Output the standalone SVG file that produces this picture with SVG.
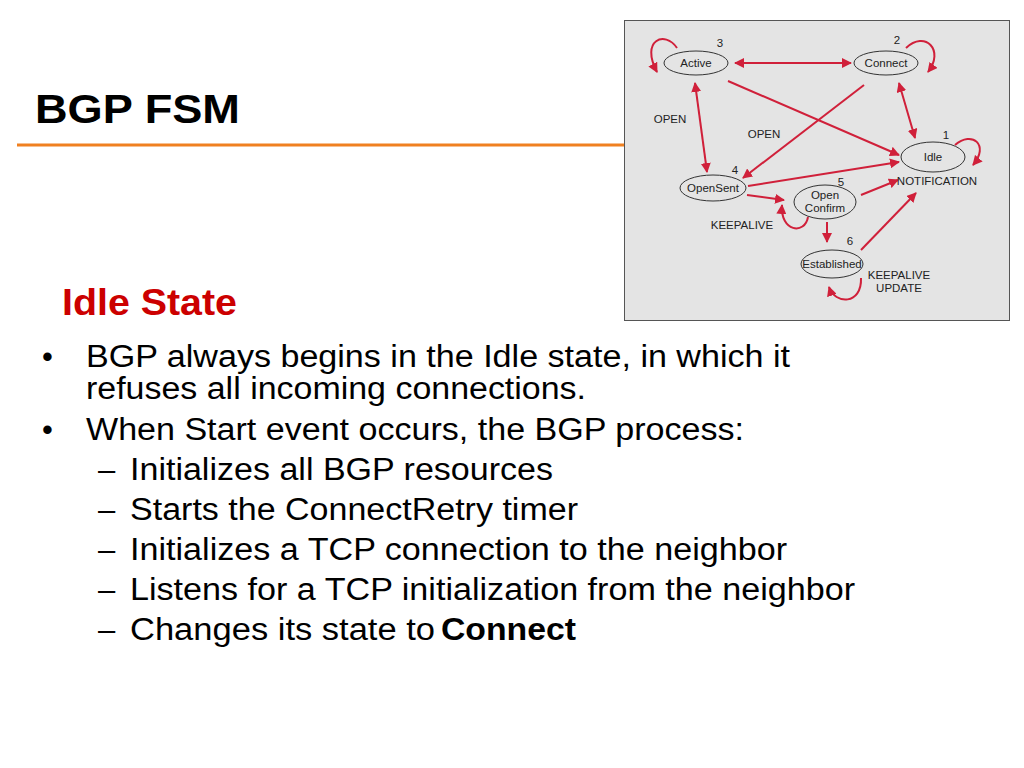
<svg xmlns="http://www.w3.org/2000/svg" width="1024" height="768" viewBox="0 0 1024 768">
<style>
.n ellipse{fill:none;stroke:#333;stroke-width:1}
.n text,.l{font-family:"Liberation Sans",Arial,sans-serif;font-size:11.5px;fill:#222;text-anchor:middle}
.c path{fill:none;stroke:#d0203a;stroke-width:2}
.lp{fill:none;stroke:#d0203a;stroke-width:1.2}
.b{font-family:"Liberation Sans",Arial,sans-serif;font-size:31px;fill:#000}
</style>
<defs>
<marker id="a" viewBox="0 0 10 10" refX="9" refY="5" markerWidth="5" markerHeight="5" orient="auto-start-reverse"><path d="M0,0L10,5L0,10z" fill="#d0203a"/></marker>
</defs>
<rect width="1024" height="768" fill="#fff"/>
<text x="35" y="123" font-family="Liberation Sans,Arial,sans-serif" font-size="40" font-weight="bold" textLength="205" lengthAdjust="spacingAndGlyphs">BGP FSM</text>
<line x1="17" y1="145" x2="624" y2="145" stroke="#f08020" stroke-width="3"/>
<rect x="624.5" y="20.5" width="385" height="300" fill="#e4e4e4" stroke="#555" stroke-width="1"/>
<g class="c">
<path d="M735,63H851" marker-start="url(#a)" marker-end="url(#a)"/>
<path d="M728,81L899,155" marker-end="url(#a)"/>
<path d="M864,85L743,178" marker-end="url(#a)"/>
<path d="M899,83L915,138" marker-start="url(#a)" marker-end="url(#a)"/>
<path d="M695,83L707,172" marker-start="url(#a)" marker-end="url(#a)"/>
<path d="M748,186L899,162" marker-end="url(#a)"/>
<path d="M747,195L784,200" marker-end="url(#a)"/>
<path d="M861,195L898,180" marker-end="url(#a)"/>
<path d="M827,222V242" marker-end="url(#a)"/>
<path d="M861,250L916,193" marker-end="url(#a)"/>
<path class="lp" d="M677,48C665,30 640,40 657,72" marker-end="url(#a)"/>
<path class="lp" d="M906,48C925,30 945,50 928,72" marker-end="url(#a)"/>
<path class="lp" d="M955,145C972,130 990,145 973,165" marker-end="url(#a)"/>
<path class="lp" d="M808,217C805,235 780,232 782,205" marker-end="url(#a)"/>
<path class="lp" d="M861,278C862,305 835,305 829,287" marker-end="url(#a)"/>
</g>
<g class="n" id="active"><ellipse cx="696" cy="63" rx="32" ry="12"/><text x="696" y="67">Active</text></g>
<g class="n" id="connect"><ellipse cx="886" cy="63" rx="32" ry="12"/><text x="886" y="67">Connect</text></g>
<g class="n" id="idle"><ellipse cx="933" cy="157" rx="32" ry="15"/><text x="933" y="161">Idle</text></g>
<g class="n" id="opensent"><ellipse cx="713" cy="188" rx="33" ry="13"/><text x="713" y="192">OpenSent</text></g>
<g class="n" id="openconfirm"><ellipse cx="825" cy="202" rx="31" ry="17"/><text x="825" y="199">Open</text><text x="825" y="212">Confirm</text></g>
<g class="n" id="established"><ellipse cx="832" cy="264" rx="31" ry="14"/><text x="832" y="268">Established</text></g>
<text class="l" x="720" y="47">3</text><text class="l" x="897" y="44">2</text><text class="l" x="946" y="139">1</text>
<text class="l" x="735" y="174">4</text><text class="l" x="841" y="186">5</text><text class="l" x="850" y="245">6</text>
<text class="l" x="670" y="123">OPEN</text><text class="l" x="764" y="138">OPEN</text>
<text class="l" x="937" y="185">NOTIFICATION</text><text class="l" x="742" y="229">KEEPALIVE</text>
<text class="l" x="899" y="279">KEEPALIVE</text><text class="l" x="899" y="292">UPDATE</text>
<text x="62" y="315" font-family="Liberation Sans,Arial,sans-serif" font-size="36" font-weight="bold" fill="#cc0000" textLength="175" lengthAdjust="spacingAndGlyphs">Idle State</text>
<text class="b" x="42" y="367">•</text><text class="b" x="86" y="367" textLength="704" lengthAdjust="spacingAndGlyphs">BGP always begins in the Idle state, in which it</text>
<text class="b" x="86" y="399" textLength="500" lengthAdjust="spacingAndGlyphs">refuses all incoming connections.</text>
<text class="b" x="42" y="440">•</text><text class="b" x="86" y="440" textLength="658" lengthAdjust="spacingAndGlyphs">When Start event occurs, the BGP process:</text>
<text class="b" x="98" y="480">–</text><text class="b" x="130" y="480" textLength="423" lengthAdjust="spacingAndGlyphs">Initializes all BGP resources</text>
<text class="b" x="98" y="520">–</text><text class="b" x="130" y="520" textLength="448" lengthAdjust="spacingAndGlyphs">Starts the ConnectRetry timer</text>
<text class="b" x="98" y="560">–</text><text class="b" x="130" y="560" textLength="657" lengthAdjust="spacingAndGlyphs">Initializes a TCP connection to the neighbor</text>
<text class="b" x="98" y="600">–</text><text class="b" x="130" y="600" textLength="725" lengthAdjust="spacingAndGlyphs">Listens for a TCP initialization from the neighbor</text>
<text class="b" x="98" y="640">–</text><text class="b" x="130" y="640" textLength="305" lengthAdjust="spacingAndGlyphs">Changes its state to</text><text class="b" x="441" y="640" font-weight="bold" fill="#cc0000" textLength="135" lengthAdjust="spacingAndGlyphs">Connect</text>
</svg>
